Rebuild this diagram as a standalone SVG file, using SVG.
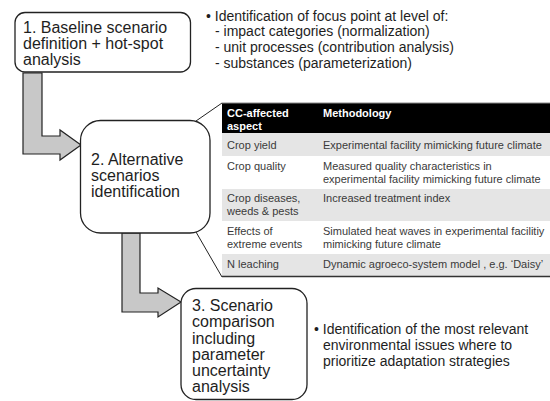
<svg xmlns="http://www.w3.org/2000/svg" width="550" height="401" viewBox="0 0 550 401">
<style>
.box{fill:#fff;stroke:#222;stroke-width:1.3}
.arr{fill:#c8c8c8;stroke:#222;stroke-width:1.2;stroke-linejoin:miter}
.big{font-family:"Liberation Sans",Arial,sans-serif;font-size:16px;fill:#1e1e1e}
.note{font-family:"Liberation Sans",Arial,sans-serif;font-size:14px;fill:#1e1e1e}
.tb{font-family:"Liberation Sans",Arial,sans-serif;font-size:11px;fill:#3a3a3a}
.th{font-family:"Liberation Sans",Arial,sans-serif;font-size:11px;font-weight:bold;fill:#fff}
.call{fill:none;stroke:#222;stroke-width:1}
</style>
<rect width="550" height="401" fill="#fff"/>
<g id="connectors">
<polygon class="arr" points="23,73 42,73 42,136 60,136 60,130 81,145 60,160 60,154 23,154"/>
<polygon class="arr" points="122,233 140,233 140,293 158,293 158,288 181,302 158,317 158,312 122,312"/>
<polyline class="call" points="196,121 222,103"/>
<polyline class="call" points="196,232 222,277"/>
</g>
<g id="node1">
<rect class="box" x="15" y="12.5" width="175.5" height="59.5" rx="10"/>
<text class="big"><tspan x="23" y="33">1. Baseline scenario</tspan><tspan x="23" y="49">definition + hot-spot</tspan><tspan x="23" y="65">analysis</tspan></text>
</g>
<g id="note1">
<text class="note"><tspan x="206" y="20.5">• Identification of focus point at level of:</tspan><tspan x="215" y="36.2">- impact categories (normalization)</tspan><tspan x="215" y="51.9">- unit processes (contribution analysis)</tspan><tspan x="215" y="67.6">- substances (parameterization)</tspan></text>
</g>
<g id="node2">
<rect class="box" x="80.5" y="120.5" width="129.5" height="112.5" rx="20"/>
<text class="big"><tspan x="91" y="165">2. Alternative</tspan><tspan x="91" y="181">scenarios</tspan><tspan x="91" y="197">identification</tspan></text>
</g>
<g id="table">
<rect x="222" y="103" width="328" height="30" fill="#000"/>
<line x1="222" y1="103" x2="550" y2="103" stroke="#888" stroke-width="1"/>
<rect x="222" y="133" width="328" height="23" fill="#e5e5e5"/>
<rect x="222" y="156" width="328" height="33" fill="#fff"/>
<rect x="222" y="189" width="328" height="32" fill="#e5e5e5"/>
<rect x="222" y="221" width="328" height="33" fill="#fff"/>
<rect x="222" y="254" width="328" height="22" fill="#e5e5e5"/>
<line x1="222" y1="276.5" x2="550" y2="276.5" stroke="#333" stroke-width="1.5"/>
<text class="th"><tspan x="227" y="117">CC-affected</tspan><tspan x="227" y="130">aspect</tspan></text>
<text class="th" x="323" y="117">Methodology</text>
<text class="tb" x="227" y="149">Crop yield</text>
<text class="tb" x="323" y="149">Experimental facility mimicking future climate</text>
<text class="tb" x="227" y="170">Crop quality</text>
<text class="tb"><tspan x="323" y="170">Measured quality characteristics in</tspan><tspan x="323" y="183">experimental facility mimicking future climate</tspan></text>
<text class="tb"><tspan x="227" y="202">Crop diseases,</tspan><tspan x="227" y="215">weeds &amp; pests</tspan></text>
<text class="tb" x="323" y="202">Increased treatment index</text>
<text class="tb"><tspan x="227" y="235">Effects of</tspan><tspan x="227" y="248">extreme events</tspan></text>
<text class="tb"><tspan x="323" y="235">Simulated heat waves in experimental facilitiy</tspan><tspan x="323" y="248">mimicking future climate</tspan></text>
<text class="tb" x="227" y="268">N leaching</text>
<text class="tb" x="323" y="268">Dynamic agroeco-system model , e.g. ‘Daisy’</text>
</g>
<g id="node3">
<rect class="box" x="181" y="288.5" width="126" height="111" rx="15"/>
<text class="big"><tspan x="192" y="311">3. Scenario</tspan><tspan x="192" y="327">comparison</tspan><tspan x="192" y="343.5">including</tspan><tspan x="192" y="359.5">parameter</tspan><tspan x="192" y="376">uncertainty</tspan><tspan x="192" y="392">analysis</tspan></text>
</g>
<g id="note3">
<text class="note"><tspan x="314" y="334.3">• Identification of the most relevant</tspan><tspan x="323" y="350">environmental issues where to</tspan><tspan x="323" y="365.7">prioritize adaptation strategies</tspan></text>
</g>
</svg>
